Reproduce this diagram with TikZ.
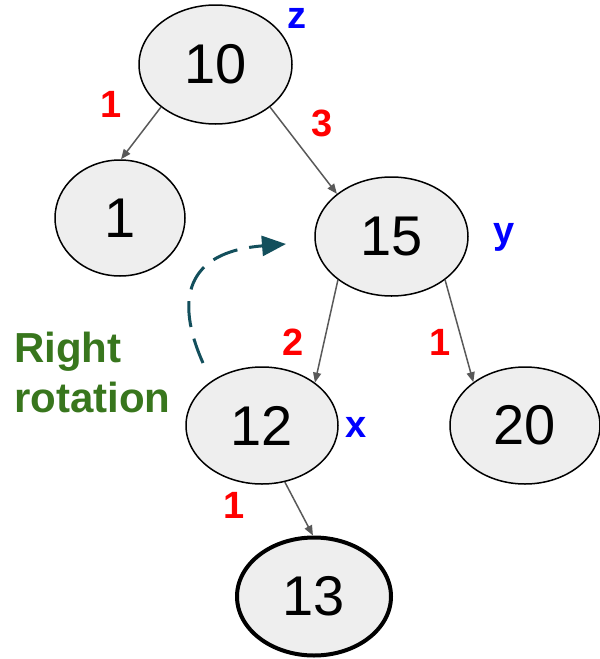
\documentclass[tikz,border=0pt]{standalone}
\usepackage{fontspec}
\setmainfont{Liberation Sans}
\usetikzlibrary{shapes.geometric,arrows.meta}
\definecolor{nodefill}{HTML}{EEEEEE}
\definecolor{edgegray}{HTML}{595959}
\definecolor{teal}{HTML}{134F5C}
\definecolor{rotgreen}{HTML}{38761D}
\tikzset{
  treenode/.style={ellipse, draw=black, fill=nodefill, line width=1.5pt, inner sep=0pt, font=\fontsize{56}{60}\selectfont},
  edge/.style={draw=edgegray, line width=1.5pt, -{Triangle[length=10pt,width=8pt]}},
  weight/.style={text=red, font=\fontsize{38}{40}\selectfont\bfseries, anchor=base, inner sep=0pt},
  tag/.style={text=blue, font=\fontsize{38}{40}\selectfont\bfseries, anchor=base, inner sep=0pt},
  rotarrow/.style={draw=teal, line width=3pt, dash pattern=on 26pt off 12pt, -{Triangle[length=24pt,width=20pt]}}
}
\begin{document}
\begin{tikzpicture}[x=1pt,y=-1pt]
\useasboundingbox (0,0) rectangle (600,659);
\node[treenode, minimum width=153pt, minimum height=119pt] (n10) at (215.5,64.5) {10};
\node[treenode, minimum width=130pt, minimum height=116pt] (n1) at (120,218) {1};
\node[treenode, minimum width=153pt, minimum height=119pt] (n15) at (391.5,236.5) {15};
\node[treenode, minimum width=152pt, minimum height=117pt] (n12) at (262,425.5) {12};
\node[treenode, minimum width=150pt, minimum height=117pt] (n20) at (525,425.5) {20};
\node[treenode, line width=4pt, minimum width=154pt, minimum height=118pt] (n13) at (314,596.5) {13};

\draw[edge] (n10.218) -- (n1.89);
\draw[edge] (n10.322) -- (n15.142);
\draw[edge] (n15.219) -- (n12.39);
\draw[edge] (n15.321) -- (n20.140);
\draw[edge] (n12.292) -- (n13.91);

\node[tag] (tz) at (297,28) {z};
\node[tag] (ty) at (504,243) {y};
\node[tag] (tx) at (356,437) {x};

\node[weight] (w1) at (111,117) {1};
\node[weight] (w3) at (322,136) {3};
\node[weight] (w2) at (293,355) {2};
\node[weight] (w4) at (440,355) {1};
\node[weight] (w5) at (234,518) {1};

\node[anchor=base west, inner sep=0pt, text=rotgreen, font=\fontsize{42}{50}\selectfont\bfseries] (rot1) at (14,362) {Right};
\node[anchor=base west, inner sep=0pt, text=rotgreen, font=\fontsize{42}{50}\selectfont\bfseries] (rot2) at (14,412) {rotation};

\coordinate (rs) at (203,363);
\coordinate (re) at (286,244);
\draw[rotarrow] (rs) .. controls (175,300) and (185,252) .. (re);
\end{tikzpicture}
\end{document}
